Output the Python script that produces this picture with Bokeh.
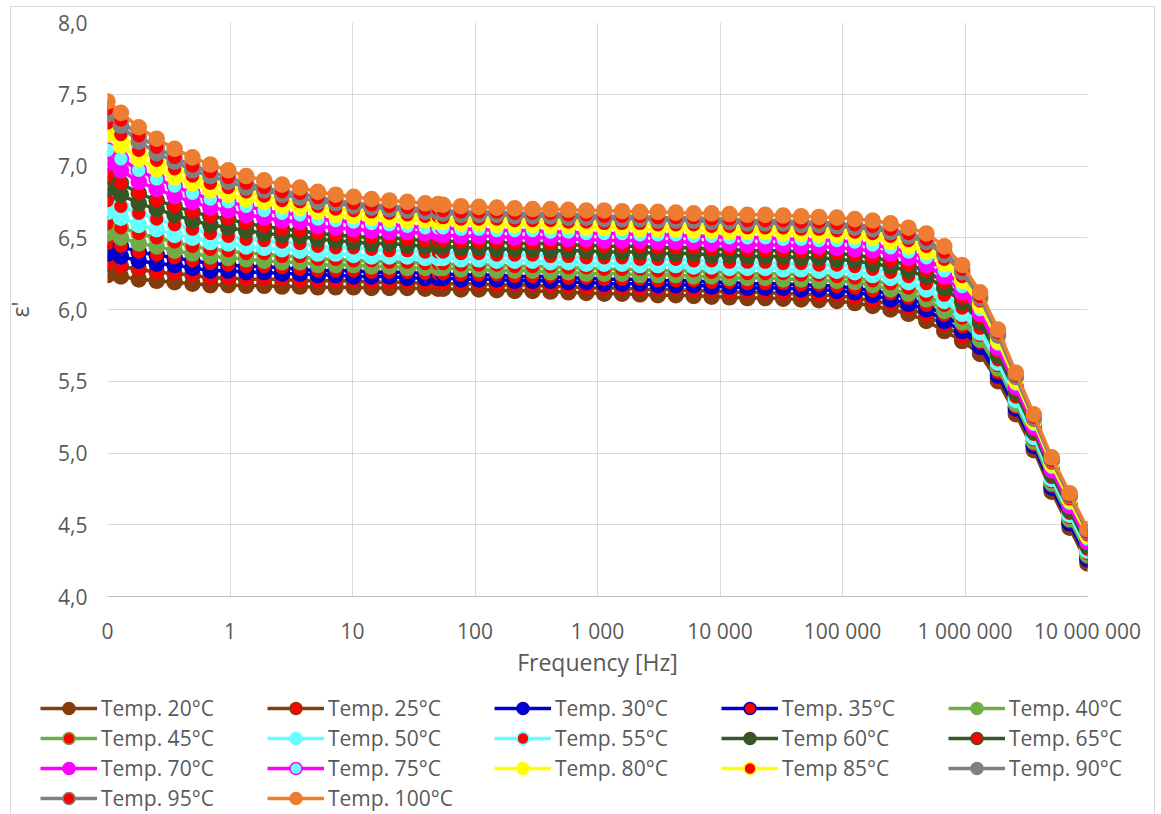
from bokeh.plotting import figure
from bokeh.models import (Range1d, FixedTicker, CustomJSTickFormatter, Legend, LegendItem,
                          ColumnDataSource)
from bokeh.embed import file_html
from bokeh.resources import INLINE

# ---------------- data ----------------
freq_hz = [0.1, 0.1286, 0.18, 0.252, 0.353, 0.494, 0.691, 0.968, 1.355, 1.90, 2.66, 3.72,
           5.21, 7.29, 10.2, 14.3, 20.0, 28.0, 39.2, 50.0, 54.9, 76.8, 107.6, 150.6, 210.8,
           295.2, 413.2, 578.5, 810, 1134, 1587, 2222, 3111, 4356, 6098, 8537, 11952, 16733,
           23426, 32796, 45915, 64281, 89993, 125990, 176386, 246940, 345716, 484003, 677604,
           948645, 1328103, 1859344, 2603082, 3644315, 5102041, 7142857, 10000000]

x_tick_values = [0.1, 1, 10, 100, 1e3, 1e4, 1e5, 1e6, 1e7]
x_tick_labels = ["0", "1", "10", "100", "1 000", "10 000", "100 000", "1 000 000", "10 000 000"]
y_tick_values = [4.0, 4.5, 5.0, 5.5, 6.0, 6.5, 7.0, 7.5, 8.0]
y_tick_labels = ["4,0", "4,5", "5,0", "5,5", "6,0", "6,5", "7,0", "7,5", "8,0"]

series_labels = ["Temp. 20°C", "Temp. 25°C", "Temp. 30°C", "Temp. 35°C", "Temp. 40°C",
                 "Temp. 45°C", "Temp. 50°C", "Temp. 55°C", "Temp 60°C", "Temp. 65°C",
                 "Temp. 70°C", "Temp. 75°C", "Temp. 80°C", "Temp 85°C", "Temp. 90°C",
                 "Temp. 95°C", "Temp. 100°C"]

eps_t20 = [6.24, 6.23, 6.21, 6.20, 6.19, 6.18, 6.17, 6.17, 6.165, 6.165, 6.16, 6.16, 6.155, 6.155,
           6.155, 6.15, 6.15, 6.15, 6.145, 6.145, 6.145, 6.14, 6.14, 6.135, 6.13, 6.13, 6.125,
           6.12, 6.115, 6.11, 6.11, 6.105, 6.10, 6.10, 6.095, 6.09, 6.085, 6.08, 6.08, 6.075,
           6.07, 6.065, 6.06, 6.045, 6.025, 6.00, 5.97, 5.92, 5.85, 5.78, 5.69, 5.50, 5.27, 5.02,
           4.73, 4.48, 4.23]
eps_t25 = [6.32, 6.30, 6.28, 6.26, 6.25, 6.24, 6.22, 6.22, 6.21, 6.21, 6.21, 6.20, 6.20, 6.20,
           6.20, 6.19, 6.19, 6.19, 6.18, 6.18, 6.18,
           6.18, 6.18, 6.17, 6.17, 6.17, 6.16, 6.16, 6.15, 6.15, 6.15, 6.14, 6.14, 6.14, 6.13,
           6.13, 6.12, 6.12, 6.12, 6.11, 6.11, 6.10, 6.10,
           6.08, 6.06, 6.04, 6.01, 5.96, 5.89, 5.81, 5.72, 5.52, 5.29, 5.04, 4.75, 4.50, 4.25]
eps_t30 = [6.39, 6.37, 6.34, 6.32, 6.31, 6.29, 6.27, 6.27, 6.26, 6.26, 6.25, 6.25, 6.24, 6.24,
           6.23, 6.23, 6.23, 6.22, 6.22, 6.22, 6.22,
           6.21, 6.21, 6.21, 6.20, 6.20, 6.20, 6.19, 6.19, 6.18, 6.18, 6.18, 6.17, 6.17, 6.17,
           6.16, 6.16, 6.15, 6.15, 6.15, 6.14, 6.14, 6.13,
           6.12, 6.10, 6.07, 6.04, 6.00, 5.92, 5.85, 5.74, 5.54, 5.31, 5.05, 4.76, 4.51, 4.26]
eps_t35 = [6.46, 6.44, 6.40, 6.38, 6.36, 6.34, 6.32, 6.31, 6.30, 6.30, 6.29, 6.28, 6.27, 6.27,
           6.27, 6.26, 6.26, 6.26, 6.25, 6.25, 6.25,
           6.24, 6.24, 6.24, 6.23, 6.23, 6.23, 6.22, 6.22, 6.21, 6.21, 6.21, 6.20, 6.20, 6.20,
           6.19, 6.19, 6.18, 6.18, 6.18, 6.17, 6.17, 6.16,
           6.15, 6.13, 6.11, 6.08, 6.03, 5.96, 5.88, 5.77, 5.56, 5.32, 5.06, 4.77, 4.52, 4.27]
eps_t40 = [6.53, 6.50, 6.46, 6.44, 6.41, 6.39, 6.37, 6.36, 6.35, 6.34, 6.33, 6.33, 6.31, 6.31,
           6.31, 6.30, 6.30, 6.29, 6.29, 6.29, 6.29,
           6.28, 6.28, 6.27, 6.27, 6.27, 6.26, 6.26, 6.25, 6.25, 6.25, 6.24, 6.24, 6.24, 6.23,
           6.23, 6.22, 6.22, 6.22, 6.21, 6.21, 6.20, 6.20,
           6.19, 6.17, 6.14, 6.11, 6.07, 5.99, 5.91, 5.79, 5.59, 5.34, 5.08, 4.79, 4.54, 4.29]
eps_t45 = [6.60, 6.57, 6.53, 6.50, 6.47, 6.44, 6.42, 6.41, 6.39, 6.39, 6.37, 6.37, 6.35, 6.35,
           6.34, 6.34, 6.33, 6.33, 6.32, 6.32, 6.32,
           6.31, 6.31, 6.31, 6.30, 6.30, 6.30, 6.29, 6.29, 6.28, 6.28, 6.28, 6.27, 6.27, 6.27,
           6.26, 6.26, 6.25, 6.25, 6.25, 6.24, 6.24, 6.23,
           6.22, 6.20, 6.18, 6.15, 6.10, 6.03, 5.94, 5.82, 5.61, 5.36, 5.09, 4.80, 4.55, 4.30]
eps_t50 = [6.68, 6.64, 6.59, 6.56, 6.52, 6.50, 6.47, 6.46, 6.44, 6.43, 6.42, 6.41, 6.39, 6.39,
           6.38, 6.37, 6.37, 6.37, 6.36, 6.36, 6.36,
           6.35, 6.35, 6.34, 6.34, 6.34, 6.33, 6.33, 6.32, 6.32, 6.32, 6.31, 6.31, 6.31, 6.30,
           6.30, 6.29, 6.29, 6.29, 6.28, 6.28, 6.27, 6.27,
           6.26, 6.24, 6.22, 6.19, 6.14, 6.06, 5.97, 5.84, 5.63, 5.37, 5.11, 4.82, 4.57, 4.32]
eps_t55 = [6.76, 6.72, 6.67, 6.63, 6.59, 6.56, 6.53, 6.51, 6.49, 6.48, 6.47, 6.46, 6.44, 6.43,
           6.43, 6.42, 6.41, 6.41, 6.40, 6.40, 6.40,
           6.39, 6.39, 6.38, 6.38, 6.38, 6.37, 6.37, 6.36, 6.36, 6.36, 6.35, 6.35, 6.35, 6.34,
           6.34, 6.33, 6.33, 6.33, 6.32, 6.32, 6.31, 6.31,
           6.30, 6.28, 6.26, 6.23, 6.18, 6.10, 6.01, 5.87, 5.65, 5.39, 5.13, 4.83, 4.58, 4.33]
eps_t60 = [6.84, 6.80, 6.74, 6.70, 6.66, 6.62, 6.59, 6.57, 6.55, 6.53, 6.52, 6.51, 6.49, 6.48,
           6.47, 6.46, 6.46, 6.45, 6.44, 6.44, 6.44,
           6.43, 6.43, 6.42, 6.42, 6.42, 6.41, 6.41, 6.41, 6.40, 6.40, 6.40, 6.39, 6.39, 6.39,
           6.38, 6.38, 6.37, 6.37, 6.37, 6.36, 6.36, 6.35,
           6.34, 6.32, 6.30, 6.27, 6.23, 6.15, 6.05, 5.91, 5.68, 5.42, 5.15, 4.85, 4.60, 4.35]
eps_t65 = [6.93, 6.88, 6.81, 6.76, 6.72, 6.68, 6.65, 6.63, 6.60, 6.58, 6.56, 6.55, 6.53, 6.52,
           6.51, 6.50, 6.50, 6.49, 6.48, 6.48, 6.48,
           6.47, 6.47, 6.47, 6.46, 6.46, 6.46, 6.45, 6.45, 6.44, 6.44, 6.44, 6.43, 6.43, 6.43,
           6.42, 6.42, 6.41, 6.41, 6.41, 6.40, 6.40, 6.39,
           6.38, 6.36, 6.34, 6.31, 6.27, 6.19, 6.08, 5.94, 5.71, 5.44, 5.16, 4.87, 4.62, 4.37]
eps_t70 = [7.02, 6.97, 6.89, 6.84, 6.79, 6.75, 6.71, 6.69, 6.66, 6.64, 6.62, 6.61, 6.58, 6.57,
           6.56, 6.55, 6.54, 6.54, 6.53, 6.53, 6.52,
           6.51, 6.51, 6.51, 6.50, 6.50, 6.50, 6.49, 6.49, 6.48, 6.48, 6.48, 6.47, 6.47, 6.47,
           6.46, 6.46, 6.45, 6.45, 6.45, 6.44, 6.44, 6.43,
           6.42, 6.41, 6.39, 6.36, 6.31, 6.23, 6.12, 5.97, 5.73, 5.46, 5.18, 4.88, 4.63, 4.38]
eps_t75 = [7.11, 7.05, 6.97, 6.91, 6.86, 6.81, 6.77, 6.75, 6.72, 6.69, 6.67, 6.66, 6.63, 6.62,
           6.61, 6.60, 6.59, 6.58, 6.57, 6.57, 6.57,
           6.56, 6.56, 6.55, 6.55, 6.55, 6.54, 6.54, 6.53, 6.53, 6.53, 6.52, 6.52, 6.52, 6.51,
           6.51, 6.50, 6.50, 6.50, 6.49, 6.49, 6.48, 6.48,
           6.47, 6.45, 6.43, 6.40, 6.36, 6.27, 6.16, 6.00, 5.76, 5.48, 5.20, 4.90, 4.65, 4.40]
eps_t80 = [7.22, 7.14, 7.05, 6.98, 6.92, 6.88, 6.83, 6.80, 6.77, 6.75, 6.72, 6.71, 6.68, 6.66,
           6.65, 6.64, 6.63, 6.62, 6.62, 6.61, 6.61,
           6.60, 6.60, 6.59, 6.59, 6.59, 6.58, 6.58, 6.57, 6.57, 6.57, 6.56, 6.56, 6.56, 6.55,
           6.55, 6.54, 6.54, 6.54, 6.53, 6.53, 6.52, 6.52,
           6.51, 6.50, 6.47, 6.44, 6.40, 6.32, 6.20, 6.03, 5.78, 5.50, 5.22, 4.92, 4.67, 4.42]
eps_t85 = [7.30, 7.22, 7.11, 7.04, 6.98, 6.93, 6.88, 6.85, 6.82, 6.79, 6.76, 6.75, 6.72, 6.70,
           6.69, 6.68, 6.67, 6.66, 6.65, 6.65, 6.64,
           6.63, 6.63, 6.63, 6.62, 6.62, 6.62, 6.61, 6.61, 6.60, 6.60, 6.60, 6.59, 6.59, 6.59,
           6.58, 6.58, 6.57, 6.57, 6.57, 6.56, 6.56, 6.55,
           6.54, 6.53, 6.51, 6.48, 6.44, 6.35, 6.23, 6.06, 5.81, 5.52, 5.23, 4.93, 4.68, 4.43]
eps_t90 = [7.36, 7.28, 7.17, 7.09, 7.03, 6.97, 6.93, 6.89, 6.85, 6.83, 6.80, 6.78, 6.75, 6.74,
           6.72, 6.71, 6.70, 6.69, 6.68, 6.68, 6.67,
           6.66, 6.66, 6.66, 6.65, 6.65, 6.65, 6.64, 6.64, 6.63, 6.63, 6.63, 6.62, 6.62, 6.62,
           6.61, 6.61, 6.60, 6.60, 6.60, 6.59, 6.59, 6.58,
           6.57, 6.56, 6.54, 6.51, 6.47, 6.38, 6.26, 6.08, 5.82, 5.53, 5.24, 4.95, 4.70, 4.45]
eps_t95 = [7.40, 7.32, 7.21, 7.13, 7.06, 7.00, 6.96, 6.92, 6.88, 6.85, 6.82, 6.81, 6.78, 6.76,
           6.74, 6.73, 6.72, 6.71, 6.70, 6.70, 6.69,
           6.68, 6.68, 6.68, 6.67, 6.67, 6.67, 6.66, 6.66, 6.65, 6.65, 6.65, 6.64, 6.64, 6.64,
           6.63, 6.63, 6.62, 6.62, 6.62, 6.61, 6.61, 6.60,
           6.59, 6.58, 6.56, 6.53, 6.49, 6.40, 6.28, 6.09, 5.84, 5.54, 5.25, 4.95, 4.70, 4.45]
eps_t100 = [7.45, 7.37, 7.27, 7.19, 7.12, 7.06, 7.01, 6.97, 6.93, 6.90, 6.87, 6.85, 6.82, 6.80,
            6.785, 6.77, 6.76, 6.75, 6.74, 6.735, 6.73, 6.72, 6.715, 6.71, 6.705, 6.70, 6.70,
            6.695, 6.69, 6.69, 6.685, 6.68, 6.68, 6.675, 6.67, 6.67, 6.665, 6.66, 6.66, 6.655,
            6.65, 6.645, 6.64, 6.63, 6.62, 6.60, 6.57, 6.53, 6.44, 6.31, 6.12, 5.86, 5.56, 5.27,
            4.97, 4.72, 4.47]

series_values = [eps_t20, eps_t25, eps_t30, eps_t35, eps_t40, eps_t45, eps_t50, eps_t55, eps_t60,
                 eps_t65, eps_t70, eps_t75, eps_t80, eps_t85, eps_t90, eps_t95, eps_t100]

# ---------------- styles ----------------
BROWN, RED, BLUE, GREEN = "#843C0C", "#FF0000", "#0000CC", "#70AD47"
CYAN, DKGREEN, MAGENTA, YELLOW = "#66FFFF", "#375623", "#FF00FF", "#FFFF00"
GRAY, ORANGE = "#808080", "#ED7D31"
line_colors = [BROWN, BROWN, BLUE, BLUE, GREEN, GREEN, CYAN, CYAN, DKGREEN, DKGREEN,
               MAGENTA, MAGENTA, YELLOW, YELLOW, GRAY, GRAY, ORANGE]
fill_colors = [BROWN, RED, BLUE, RED, GREEN, RED, CYAN, RED, DKGREEN, RED,
               MAGENTA, CYAN, YELLOW, RED, GRAY, RED, ORANGE]

TEXT = "#595959"
FONT = "Open Sans"

W = 1160
MAIN_H, LEG_H = 680, 134
FRAME_L, FRAME_R, FRAME_T, FRAME_B = 107, 1087, 22, 600

p = figure(width=W, height=MAIN_H, x_axis_type="log", output_backend="svg",
           toolbar_location=None, x_range=Range1d(0.1, 1e7), y_range=Range1d(4.0, 8.0),
           min_border_left=FRAME_L, min_border_right=W - FRAME_R,
           min_border_top=FRAME_T, min_border_bottom=MAIN_H - FRAME_B)
p.outline_line_color = None
p.background_fill_color = "white"
p.border_fill_color = "white"

p.xaxis.ticker = FixedTicker(ticks=x_tick_values)
p.xaxis.formatter = CustomJSTickFormatter(args=dict(labels=x_tick_labels),
                                          code="return labels[Math.round(Math.log10(tick)) + 1];")
p.yaxis.ticker = FixedTicker(ticks=y_tick_values)
p.yaxis.formatter = CustomJSTickFormatter(args=dict(labels=y_tick_labels),
                                          code="return labels[Math.round((tick - 4.0) * 2)];")
for ax in (p.xaxis[0], p.yaxis[0]):
    ax.major_tick_line_color = None
    ax.minor_tick_line_color = None
    ax.major_tick_out = 0
    ax.major_tick_in = 0
    ax.minor_tick_out = 0
    ax.minor_tick_in = 0
    ax.major_label_text_font = FONT
    ax.major_label_text_font_size = "21px"
    ax.major_label_text_color = TEXT
    ax.axis_label_text_font = FONT
    ax.axis_label_text_font_size = "23px"
    ax.axis_label_text_color = TEXT
    ax.axis_label_text_font_style = "normal"
p.xaxis.axis_label = "Frequency [Hz]"
p.xaxis.major_label_standoff = 20
p.xaxis.axis_label_standoff = -2
p.xaxis.axis_line_color = "#BFBFBF"
p.yaxis.axis_label = "ε'"
p.yaxis.major_label_standoff = 20
p.yaxis.axis_label_standoff = 19
p.yaxis.axis_line_color = None

p.xgrid.ticker = FixedTicker(ticks=x_tick_values)
p.ygrid.ticker = FixedTicker(ticks=y_tick_values)
p.xgrid.grid_line_color = "#D9D9D9"
p.ygrid.grid_line_color = "#D9D9D9"

# legend strip below the chart (its own root, so its frame spans the full width)
lg = figure(width=W, height=LEG_H, output_backend="svg", toolbar_location=None,
            x_range=Range1d(0, 1), y_range=Range1d(0, 1), min_border=0,
            x_axis_location=None, y_axis_location=None)
lg.outline_line_color = None
lg.xgrid.visible = False
lg.ygrid.visible = False
lg.background_fill_color = "white"
lg.border_fill_color = "white"

items = []
for label, vals, lc, fc in zip(series_labels, series_values, line_colors, fill_colors):
    assert len(vals) == len(freq_hz), label
    src = ColumnDataSource(dict(f=freq_hz, v=vals))
    p.line("f", "v", source=src, line_color=lc, line_width=3.5)
    p.scatter("f", "v", source=src, size=15, fill_color=fc, line_color=lc, line_width=1.6)
    # legend keys: same data, which lies outside the strip's ranges, so only the keys show
    ln = lg.line("f", "v", source=src, line_color=lc, line_width=3.5)
    sc = lg.scatter("f", "v", source=src, size=15, fill_color=fc, line_color=lc, line_width=1.6)
    items.append(LegendItem(label=label, renderers=[ln, sc]))

legend = Legend(items=items, ncols=5, orientation="horizontal",
                location=(40, 1), glyph_width=57, glyph_height=30, label_height=30,
                label_width=166, label_standoff=4, spacing=0, padding=0, margin=0,
                label_text_font=FONT, label_text_font_size="21px", label_text_color=TEXT,
                border_line_color=None, background_fill_alpha=0)
lg.add_layout(legend)

html = file_html([p, lg], INLINE)
# light chart-area border, as in the reference
frame_div = ('<div style="position:fixed;left:10px;top:6px;width:1143px;height:830px;'
             'border:1px solid #D9D9D9;pointer-events:none;z-index:10;"></div>')
i = html.rfind("<body>")
if i >= 0:
    j = i + len("<body>")
    html = html[:j] + frame_div + html[j:]
open("out.html", "w").write(html)
